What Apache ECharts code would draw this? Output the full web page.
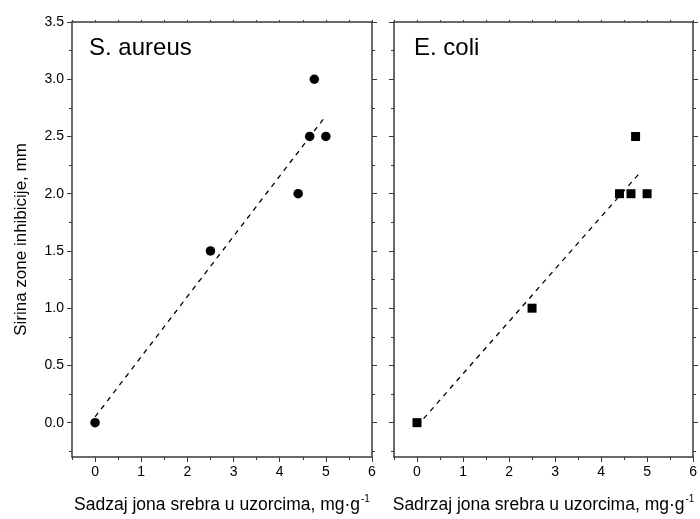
<!DOCTYPE html>
<html>
<head>
<meta charset="utf-8">
<script src="https://cdn.jsdelivr.net/npm/echarts@6/dist/echarts.min.js"></script>
<style>
  html, body { margin: 0; padding: 0; background: #fff; }
  #chart { width: 700px; height: 519px; }
</style>
</head>
<body>
<div id="chart"></div>
<script>
// Silver ion content (mg/g) vs. inhibition zone width (mm)
const silverAureus = [0, 2.5, 4.4, 4.65, 4.75, 5.0];
const zoneAureus   = [0, 1.5, 2.0, 2.5, 3.0, 2.5];
const silverColi   = [0, 2.5, 4.4, 4.65, 4.75, 5.0];
const zoneColi     = [0, 1.0, 2.0, 2.0, 2.5, 2.0];

// Linear fit end points
const fitAureusX = [0, 5.0];
const fitAureusY = [0.05, 2.68];
const fitColiX   = [0, 4.88];
const fitColiY   = [-0.03, 2.2];

// Tick positions
const xTicks = [0, 1, 2, 3, 4, 5, 6];
const xMinor = [-0.5, 0.5, 1.5, 2.5, 3.5, 4.5, 5.5];
const yTicks = [0, 0.5, 1.0, 1.5, 2.0, 2.5, 3.0, 3.5];
const yMinor = [-0.25, 0.25, 0.75, 1.25, 1.75, 2.25, 2.75, 3.25];

const panelLabels = ['S. aureus', 'E. coli'];
const xTitles = ['Sadzaj jona srebra u uzorcima, mg·g', 'Sadrzaj jona srebra u uzorcima, mg·g'];
const yTitle = 'Sirina zone inhibicije, mm';

const FONT = '"Liberation Sans", Arial, sans-serif';
const AXIS_COLOR = '#3a3a3a';
const X_RANGE = [-0.5, 6];
const Y_RANGE = [-0.3, 3.5];

const pairs = (xs, ys) => xs.map((x, i) => [x, ys[i]]);

function xAxis(idx, pos, ticks, len, line, title) {
  const ax = {
    type: 'value', gridIndex: idx, position: pos,
    min: X_RANGE[0], max: X_RANGE[1],
    axisLine: { show: line, onZero: false, lineStyle: { color: AXIS_COLOR, width: 1.5 } },
    axisTick: { show: true, inside: false, length: len, customValues: ticks, lineStyle: { color: AXIS_COLOR, width: 1 } },
    splitLine: { show: false },
    axisLabel: { show: false }
  };
  if (title) {
    ax.axisLabel = {
      show: true, customValues: xTicks,
      color: '#000', fontFamily: FONT, fontSize: 14, margin: 8,
      formatter: v => String(v)
    };
    ax.name = '{t|' + title + '}{s|-1}';
    ax.nameLocation = 'middle';
    ax.nameGap = 37;
    ax.nameTextStyle = {
      rich: {
        t: { fontFamily: FONT, fontSize: 17.5, color: '#000' },
        s: { fontFamily: FONT, fontSize: 10, color: '#000', verticalAlign: 'top', padding: [0, 0, 12, 1] }
      }
    };
  }
  return ax;
}

function yAxis(idx, pos, ticks, len, line, withLabels) {
  const ax = {
    type: 'value', gridIndex: idx, position: pos,
    min: Y_RANGE[0], max: Y_RANGE[1],
    axisLine: { show: line, onZero: false, lineStyle: { color: AXIS_COLOR, width: 1.5 } },
    axisTick: { show: true, inside: false, length: len, customValues: ticks, lineStyle: { color: AXIS_COLOR, width: 1 } },
    splitLine: { show: false },
    axisLabel: { show: false }
  };
  if (withLabels) {
    ax.axisLabel = {
      show: true, customValues: yTicks,
      color: '#000', fontFamily: FONT, fontSize: 14, margin: 8,
      formatter: v => v.toFixed(1)
    };
    ax.name = yTitle;
    ax.nameLocation = 'middle';
    ax.nameGap = 42;
    ax.nameTextStyle = { fontFamily: FONT, fontSize: 17, color: '#000' };
  }
  return ax;
}

const chart = echarts.init(document.getElementById('chart'), null, { renderer: 'canvas' });

const xAxes = [];
const yAxes = [];
for (let g = 0; g < 2; g++) {
  xAxes.push(xAxis(g, 'bottom', xTicks, 5, true, xTitles[g]));
  xAxes.push(xAxis(g, 'bottom', xMinor, 3, false, null));
  xAxes.push(xAxis(g, 'top', xTicks, 2, true, null));
  xAxes.push(xAxis(g, 'top', xMinor, 2, false, null));
  yAxes.push(yAxis(g, 'left', yTicks, 5, true, g === 0));
  yAxes.push(yAxis(g, 'left', yMinor, 3, false, false));
  yAxes.push(yAxis(g, 'right', yTicks, 5, true, false));
  yAxes.push(yAxis(g, 'right', yMinor, 3, false, false));
}
// indices of the primary axes of each grid
const XI = [0, 4];
const YI = [0, 4];

const titleStyle = { fontFamily: FONT, fontSize: 24, fontWeight: 'normal', color: '#000' };

const option = {
  backgroundColor: '#fff',
  animation: false,
  textStyle: { fontFamily: FONT },
  grid: [
    { left: 72, top: 22, width: 300, height: 440 },
    { left: 394, top: 22, width: 302, height: 440 }
  ],
  title: [
    { text: panelLabels[0], left: 84, top: 31, textStyle: titleStyle },
    { text: panelLabels[1], left: 409, top: 31, textStyle: titleStyle }
  ],
  xAxis: xAxes,
  yAxis: yAxes,
  series: [
    {
      type: 'line', xAxisIndex: XI[0], yAxisIndex: YI[0],
      data: pairs(fitAureusX, fitAureusY),
      showSymbol: false, silent: true,
      lineStyle: { color: '#000', width: 1.3, type: [5, 5] }
    },
    {
      type: 'scatter', xAxisIndex: XI[0], yAxisIndex: YI[0],
      data: pairs(silverAureus, zoneAureus),
      symbol: 'circle', symbolSize: 9.5,
      itemStyle: { color: '#000', opacity: 1 }
    },
    {
      type: 'line', xAxisIndex: XI[1], yAxisIndex: YI[1],
      data: pairs(fitColiX, fitColiY),
      showSymbol: false, silent: true,
      lineStyle: { color: '#000', width: 1.3, type: [5, 5] }
    },
    {
      type: 'scatter', xAxisIndex: XI[1], yAxisIndex: YI[1],
      data: pairs(silverColi, zoneColi),
      symbol: 'rect', symbolSize: 9,
      itemStyle: { color: '#000', opacity: 1 }
    }
  ]
};

chart.setOption(option);
</script>
</body>
</html>
